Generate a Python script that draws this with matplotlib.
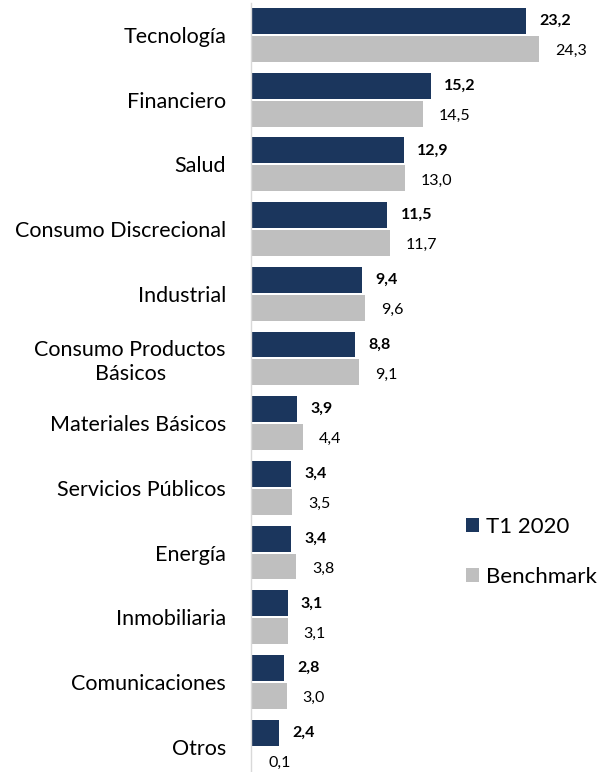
import matplotlib
matplotlib.use("Agg")
import matplotlib.pyplot as plt
import numpy as np

categories = ["Tecnología", "Financiero", "Salud", "Consumo Discrecional", "Industrial",
              "Consumo Productos\nBásicos", "Materiales Básicos", "Servicios Públicos",
              "Energía", "Inmobiliaria", "Comunicaciones", "Otros"]
t1_2020 = [23.2, 15.2, 12.9, 11.5, 9.4, 8.8, 3.9, 3.4, 3.4, 3.1, 2.8, 2.4]
benchmark = [24.3, 14.5, 13.0, 11.7, 9.6, 9.1, 4.4, 3.5, 3.8, 3.1, 3.0, 0.1]
series_names = ["T1 2020", "Benchmark"]

plt.rcParams['font.family'] = ['Lato', 'DejaVu Sans']

W, H = 613, 772
fig = plt.figure(figsize=(W / 100, H / 100), dpi=100)
ax_left = 251 / W
ax_w = 355.5 / W
ax_h = 776.4 / H
ax_bottom = (H - 779) / H
ax = fig.add_axes([ax_left, ax_bottom, ax_w, ax_h])

navy = "#1B365D"
gray = "#BFBFBF"
y = np.arange(len(categories))
bh = 0.40
ax.barh(y - bh / 2 - 0.015, t1_2020, height=bh, color=navy, label=series_names[0])
ax.barh(y + bh / 2 + 0.015, benchmark, height=bh, color=gray, label=series_names[1])

ax.set_xlim(0, 30)
ax.set_ylim(len(categories) - 0.5, -0.5)

for i, (a, b) in enumerate(zip(t1_2020, benchmark)):
    ax.annotate(f"{a:.1f}".replace(".", ","), (a, i - bh / 2 - 0.015), xytext=(9.5, 0),
                textcoords="offset points", va="center", ha="left",
                fontsize=11.5, fontweight="bold", color="black")
    ax.annotate(f"{b:.1f}".replace(".", ","), (b, i + bh / 2 + 0.05), xytext=(11.5, 0),
                textcoords="offset points", va="center", ha="left",
                fontsize=11.5, color="black")

ax.set_yticks(y)
ax.set_yticklabels(categories, fontsize=15.5, ha="right", linespacing=1.25)
for lab in ax.get_yticklabels():
    lab.set_multialignment("center")
ax.tick_params(axis="y", length=0, pad=18)
ax.set_xticks([])
for s in ["top", "right", "bottom"]:
    ax.spines[s].set_visible(False)
ax.spines["left"].set_color("#D9D9D9")
ax.spines["left"].set_linewidth(1.0)

leg = ax.legend(loc="upper left", bbox_to_anchor=(466 / W, (H - 517) / H),
                bbox_transform=fig.transFigure, frameon=False, fontsize=16,
                handlelength=0.6, handleheight=0.6, handletextpad=0.3,
                labelspacing=1.35, borderpad=0, borderaxespad=0)

fig.savefig("out.png", dpi=100)
